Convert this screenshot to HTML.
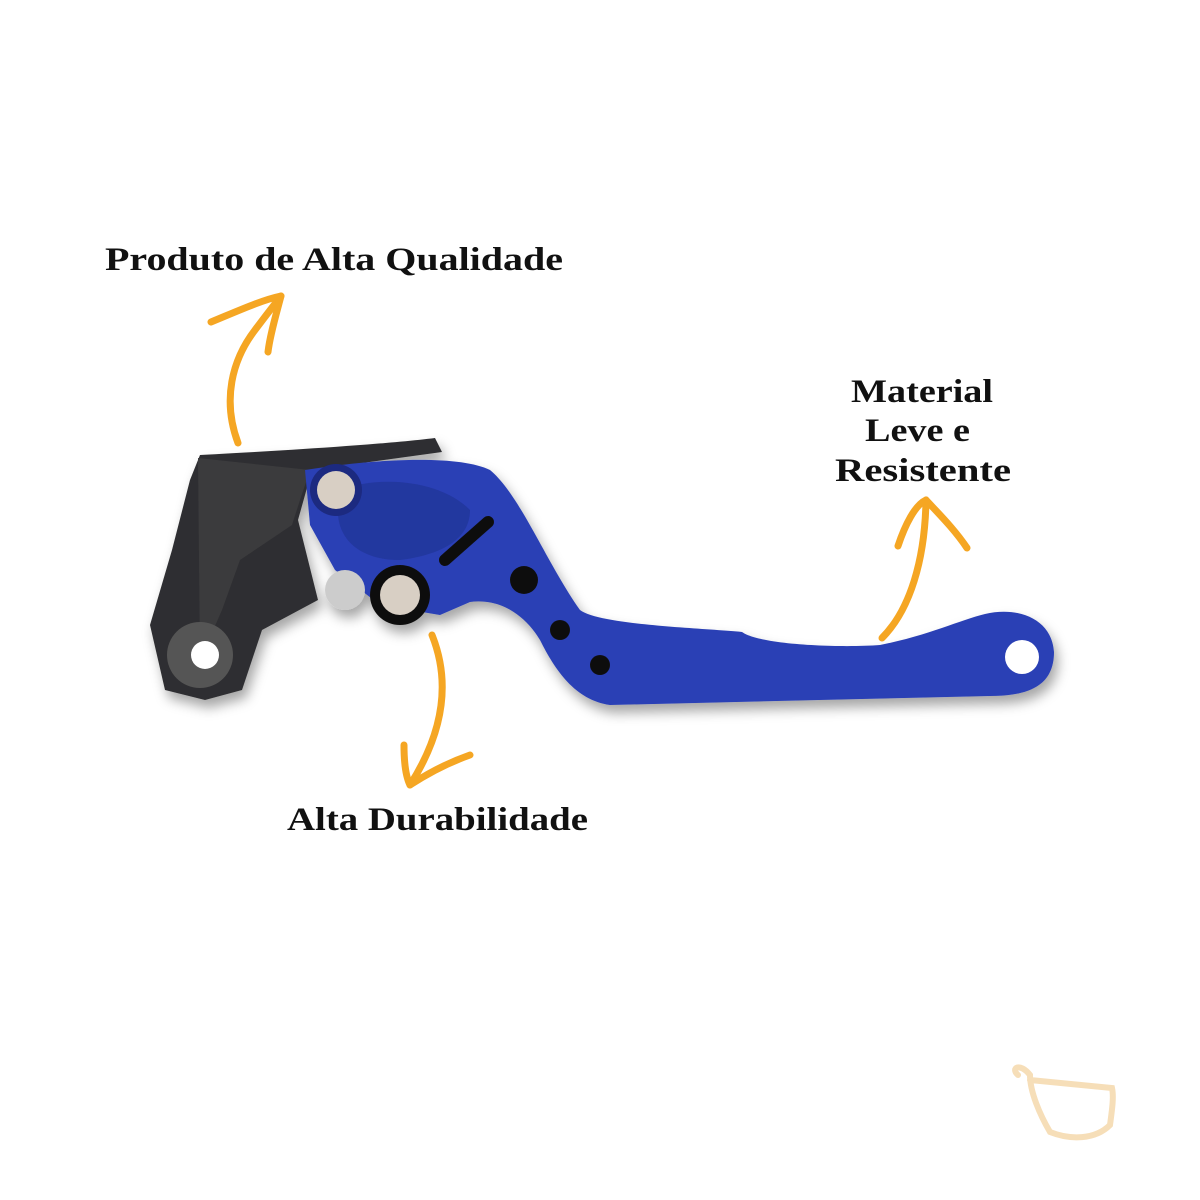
<!DOCTYPE html>
<html><head><meta charset="utf-8"><style>
html,body{margin:0;padding:0;background:#fff;}
svg{display:block}
text{font-family:"Liberation Serif",serif;font-weight:bold;fill:#111;}
</style></head><body>
<svg width="1200" height="1200" viewBox="0 0 1200 1200">
<defs><filter id="sh" x="-10%" y="-10%" width="120%" height="130%"><feDropShadow dx="4" dy="8" stdDeviation="6" flood-color="#000" flood-opacity="0.35"/></filter></defs>
<text x="105" y="270" font-size="33" textLength="458" lengthAdjust="spacingAndGlyphs">Produto de Alta Qualidade</text>
<text x="851" y="402" font-size="33" textLength="142" lengthAdjust="spacingAndGlyphs">Material</text>
<text x="865" y="441" font-size="33" textLength="105" lengthAdjust="spacingAndGlyphs">Leve e</text>
<text x="835" y="481" font-size="33" textLength="176" lengthAdjust="spacingAndGlyphs">Resistente</text>
<text x="287" y="830" font-size="33" textLength="301" lengthAdjust="spacingAndGlyphs">Alta Durabilidade</text>
<g fill="none" stroke="#f5a623" stroke-width="7" stroke-linecap="round" stroke-linejoin="round">
<path d="M238,443 C222,400 232,360 255,330 C270,310 278,300 281,296"/>
<path d="M211,322 C240,310 262,300 281,296 C276,315 270,335 268,352"/>
<path d="M432,635 C450,680 445,730 410,785"/>
<path d="M404,745 C404,760 405,775 410,785 C430,772 450,762 470,755"/>
<path d="M882,638 C910,610 925,560 926,500"/>
<path d="M898,546 C905,525 915,505 926,500 C940,515 955,530 967,548"/>
</g>
<g filter="url(#sh)">
<path d="M200,455 C260,452 380,445 435,438 L442,452 L312,470 L298,520 L318,600 L262,630 L242,690 L205,700 L165,690 L150,625 L172,550 L190,480 Z" fill="#2e2e30"/>
<path d="M198,458 L310,470 L300,500 L292,525 L240,560 L222,610 L200,660" fill="#3b3b3e"/>
<circle cx="200" cy="655" r="33" fill="#555"/>
<circle cx="205" cy="655" r="14" fill="#fff"/>
<path d="M305,470 C380,458 460,455 490,470 C520,495 545,560 580,610 C600,625 700,628 742,632 C760,645 840,648 880,645 C930,635 960,620 985,614 C1020,606 1052,620 1054,652 C1054,685 1030,696 990,696 L610,705 C575,700 555,670 540,640 C525,615 500,598 470,602 L440,615 L380,605 L335,570 L310,525 Z" fill="#2a3fb5"/>
<path d="M340,490 C380,475 440,480 470,510 C470,540 440,555 400,560 C360,560 340,540 338,515 Z" fill="#24379f"/>
<circle cx="336" cy="490" r="26" fill="#1d2a80"/>
<circle cx="336" cy="490" r="19" fill="#d8cfc4"/>
<circle cx="345" cy="590" r="20" fill="#ccc"/>
<circle cx="400" cy="595" r="30" fill="#111"/>
<circle cx="400" cy="595" r="20" fill="#d8cfc4"/>
<path d="M445,560 L488,522" stroke="#111" stroke-width="12" stroke-linecap="round"/>
<circle cx="524" cy="580" r="14" fill="#111"/>
<circle cx="560" cy="630" r="10" fill="#111"/>
<circle cx="600" cy="665" r="10" fill="#111"/>
<circle cx="1022" cy="657" r="17" fill="#fff"/>
</g>
<path d="M1018,1075 C1010,1068 1020,1062 1030,1075 C1030,1092 1040,1115 1050,1132 C1070,1140 1095,1140 1110,1125 C1112,1110 1114,1097 1112,1088 L1030,1080" fill="none" stroke="#f6deb8" stroke-width="6" stroke-linecap="round"/>
</svg>
</body></html>
